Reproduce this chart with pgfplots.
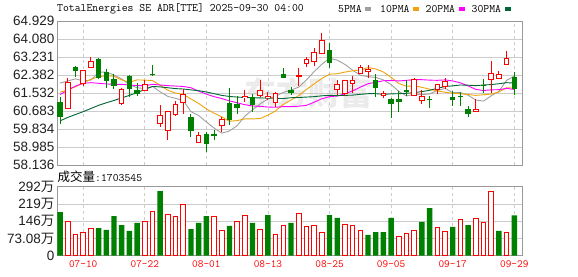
\documentclass[border=0pt]{standalone}
\usepackage{pgfplots}
\pgfplotsset{compat=1.18}
\usepackage{pgfplotstable}
\usepackage{fontspec}
\setmainfont{Liberation Sans}
\newfontfamily\cjk{Noto Sans CJK SC}
\definecolor{cred}{HTML}{FF0000}
\definecolor{cgreen}{HTML}{008000}
\definecolor{cma5}{HTML}{A0A0A0}
\definecolor{cma10}{HTML}{F0A30A}
\definecolor{cma20}{HTML}{FF00FF}
\definecolor{cma30}{HTML}{006633}
\definecolor{gridc}{HTML}{CCCCCC}
\definecolor{framec}{HTML}{999999}
\definecolor{labc}{HTML}{202020}

\pgfplotstableread{
i o h l c
1 60.81 62.23 60.81 62.04
3 61.99 62.62 61.88 62.60
4 62.74 63.22 62.70 63.04
8 61.03 61.75 60.97 61.72
11 61.67 62.15 61.63 61.91
13 60.10 60.97 59.94 60.45
14 59.77 60.70 59.33 60.65
15 60.53 61.16 60.46 60.97
16 61.09 61.72 60.56 61.44
18 59.19 59.71 59.16 59.55
21 59.99 60.42 59.71 60.26
24 61.34 61.66 61.12 61.39
26 61.41 62.15 61.34 61.66
27 61.31 61.60 61.20 61.39
28 61.09 61.56 60.87 61.50
31 62.30 62.70 61.88 62.34
32 62.93 63.25 62.78 63.09
33 63.01 63.67 62.82 63.45
34 63.40 64.38 63.36 64.02
36 61.69 62.15 61.44 61.91
37 61.50 62.15 61.39 62.10
38 61.99 62.34 61.52 62.12
39 62.46 62.85 62.41 62.74
40 62.57 62.85 62.23 62.65
42 61.41 61.63 61.28 61.52
46 61.42 62.24 61.38 62.18
47 61.16 61.66 61.03 61.39
49 61.69 61.96 61.49 61.91
50 61.83 62.26 61.72 62.08
54 60.68 61.23 60.65 60.76
56 62.18 63.04 61.55 62.46
57 62.23 62.57 62.19 62.41
58 62.89 63.51 62.85 63.17
}\up

\pgfplotstableread{
i o h l c
0 61.09 61.36 60.05 60.42
2 62.78 62.82 62.30 62.59
5 63.14 63.17 62.19 62.26
6 62.51 62.67 61.78 62.11
7 62.19 62.41 61.72 61.88
9 62.34 62.38 61.36 61.70
10 61.66 61.99 61.39 61.50
12 62.44 62.85 62.33 62.40
17 60.40 60.53 59.47 59.76
19 59.61 59.71 58.74 59.14
20 59.61 59.79 59.30 59.49
22 61.08 61.79 60.02 60.24
23 61.01 61.39 60.54 60.81
25 61.34 61.48 60.65 60.98
29 62.41 62.73 62.23 62.26
30 61.66 61.83 61.44 61.55
35 63.56 63.88 62.70 62.93
41 62.15 62.41 61.36 61.75
43 61.25 61.31 60.37 61.00
44 61.25 61.63 60.65 61.12
45 61.67 62.15 61.41 61.58
48 61.23 61.39 60.81 61.19
51 61.36 61.63 60.94 61.20
52 61.41 61.56 60.94 61.38
53 60.78 60.94 60.42 60.56
55 61.89 62.18 61.52 61.86
59 62.29 62.51 61.44 61.74
}\down

\pgfplotstableread{
i a b d e
0 62.00 61.57 61.46 60.22
1 62.10 61.67 61.67 60.38
2 62.20 61.83 61.86 60.52
3 62.10 62.00 61.99 60.65
4 62.14 62.18 62.02 60.80
5 62.51 62.30 61.99 60.95
6 62.52 62.35 61.96 61.07
7 62.38 62.32 61.94 61.18
8 62.20 62.15 61.94 61.30
9 61.93 62.04 61.91 61.42
10 61.78 62.15 61.88 61.55
11 61.74 62.14 61.88 61.70
12 61.84 62.12 61.94 61.84
13 61.59 61.90 61.91 61.82
14 61.37 61.66 61.88 61.78
15 61.28 61.53 61.86 61.74
16 61.18 61.47 61.84 61.72
17 60.65 61.25 61.78 61.68
18 60.47 61.04 61.62 61.64
19 60.17 60.78 61.48 61.58
20 59.88 60.58 61.36 61.50
21 59.64 60.41 61.27 61.42
22 59.74 60.20 61.16 61.37
23 59.99 60.23 61.07 61.34
24 60.44 60.31 60.98 61.32
25 60.74 60.31 60.92 61.31
26 61.02 60.33 60.90 61.30
27 61.25 60.49 60.87 61.29
28 61.38 60.69 60.86 61.28
29 61.56 61.00 60.89 61.27
30 61.67 61.20 60.89 61.31
31 61.81 61.41 60.91 61.32
32 62.15 61.70 60.95 61.34
33 62.54 61.96 61.10 61.36
34 62.89 62.22 61.26 61.40
35 63.17 62.42 61.36 61.42
36 63.08 62.44 61.39 61.41
37 62.88 62.52 61.50 61.42
38 62.61 62.58 61.63 61.43
39 62.37 62.62 61.81 61.47
40 62.30 62.73 61.97 61.50
41 62.27 62.67 62.04 61.50
42 62.15 62.52 62.11 61.47
43 61.93 62.27 62.12 61.49
44 61.61 61.98 62.10 61.50
45 61.39 61.85 62.13 61.52
46 61.48 61.87 62.16 61.55
47 61.45 61.80 62.16 61.60
48 61.49 61.71 62.14 61.66
49 61.65 61.63 62.13 61.75
50 61.75 61.57 62.15 61.84
51 61.55 61.52 62.10 61.87
52 61.55 61.50 62.01 61.91
53 61.43 61.46 61.87 61.90
54 61.20 61.42 61.70 61.88
55 61.15 61.45 61.65 61.91
56 61.40 61.48 61.68 61.93
57 61.61 61.58 61.69 61.97
58 62.13 61.78 61.75 62.02
59 62.33 61.76 61.70 62.00
}\ma

\pgfplotstableread{
i v
1 143
2 91
3 100
4 116
11 143
12 188
14 175
15 167
16 215
20 168
21 107
23 147
24 171
26 112
28 91
29 129
31 180
32 124
33 129
34 99
37 133
38 129
39 108
44 82
45 92
46 108
49 120
50 103
52 154
54 158
55 139
56 273
58 99
}\volup

\pgfplotstableread{
i v
0 185
5 117
6 109
7 168
8 130
9 105
10 139
13 274
17 113
18 139
19 168
22 126
25 139
27 172
30 139
35 172
36 160
40 88
41 100
42 100
43 160
47 143
48 202
51 122
53 130
57 105
59 170.35
}\voldown

\pgfplotsset{
  panel/.style={
    scale only axis, anchor=south west, width=465pt,
    xmin=-0.4, xmax=60,
    axis line style={framec, line width=0.8pt},
    major tick length=0pt,
    xtick={3,11,19,27,35,43,51,59},
    ymajorgrids, xmajorgrids,
    y grid style={gridc, line width=0.7pt},
    x grid style={gridc, line width=0.7pt, dash pattern=on 3pt off 3pt},
    yticklabel style={font=\fontsize{13.5}{14}\selectfont, text=labc, xshift=1pt},
  },
}

\begin{document}
\begin{tikzpicture}[x=1pt,y=1pt]
\path[use as bounding box] (0,0) rectangle (578,276);
\node[text=black!8, font=\cjk\bfseries\fontsize{32}{32}\selectfont] at (308,183) {东方财富};

% title and legend
\node[anchor=west, inner sep=0pt, font=\ttfamily\fontsize{11.4}{12}\selectfont] at (57,267) {TotalEnergies SE ADR[TTE] 2025-09-30 04:00};
\node[anchor=west, inner sep=0pt, font=\ttfamily\fontsize{11.4}{12}\selectfont] at (338,267) {5PMA};
\fill[cma5] (365,265) rectangle (371,269);
\node[anchor=west, inner sep=0pt, font=\ttfamily\fontsize{11.4}{12}\selectfont] at (380,267) {10PMA};
\fill[cma10] (413,265) rectangle (419,269);
\node[anchor=west, inner sep=0pt, font=\ttfamily\fontsize{11.4}{12}\selectfont] at (425.5,267) {20PMA};
\fill[cma20] (459,265) rectangle (465,269);
\node[anchor=west, inner sep=0pt, font=\ttfamily\fontsize{11.4}{12}\selectfont] at (471.5,267) {30PMA};
\fill[cma30] (505,265) rectangle (511,269);
\node[anchor=west, inner sep=0pt] at (57.5,99) {{\cjk\fontsize{12.5}{12.5}\selectfont 成交量}{\ttfamily\fontsize{11.4}{12}\selectfont :1703545}};

% price panel
\begin{axis}[panel, at={(57pt,111pt)}, height=144pt,
  ymin=58.136, ymax=64.929,
  ytick={58.136,58.985,59.834,60.683,61.532,62.382,63.231,64.080,64.929},
  yticklabels={58.136,58.985,59.834,60.683,61.532,62.382,63.231,64.080,64.929},
  xticklabels={},
]
\addplot[cma5, line width=0.9pt, mark=none] table[x=i, y=a]{\ma};
\addplot[cma10, line width=0.9pt, mark=none] table[x=i, y=b]{\ma};
\addplot[cma20, line width=0.9pt, mark=none] table[x=i, y=d]{\ma};
\addplot[cma30, line width=0.9pt, mark=none] table[x=i, y=e]{\ma};
% green candles
\addplot[draw=none, mark=none, error bars/.cd, y dir=plus, y explicit, error mark=none,
  error bar style={draw=cgreen, line width=1pt, solid}]
  table[x=i, y=l, y error expr=\thisrow{h}-\thisrow{l}]{\down};
\addplot[draw=none, mark=none, error bars/.cd, y dir=plus, y explicit, error mark=none,
  error bar style={draw=cgreen, line width=5.4pt, solid}]
  table[x=i, y=c, y error expr=\thisrow{o}-\thisrow{c}]{\down};
% red candles
\addplot[draw=none, mark=none, error bars/.cd, y dir=plus, y explicit, error mark=none,
  error bar style={draw=cred, line width=1pt, solid}]
  table[x=i, y=l, y error expr=\thisrow{h}-\thisrow{l}]{\up};
\addplot[draw=none, mark=none, error bars/.cd, y dir=plus, y explicit, error mark=none,
  error bar style={draw=cred, line width=5.6pt, solid}]
  table[x=i, y expr=\thisrow{o}-0.0236, y error expr=\thisrow{c}-\thisrow{o}+0.0472]{\up};
\addplot[draw=none, mark=none, error bars/.cd, y dir=plus, y explicit, error mark=none,
  error bar style={draw=white, line width=3.6pt, solid}]
  table[x=i, y expr=\thisrow{o}+0.0236, y error expr={max(\thisrow{c}-\thisrow{o}-0.0472,0)}]{\up};
\end{axis}

% volume panel
\begin{axis}[panel, at={(57pt,20.3pt)}, height=69pt,
  ymin=0, ymax=292.32,
  ytick={0,73.08,146.16,219.24,292.32},
  yticklabels={0,73.08{\cjk 万},146{\cjk 万},219{\cjk 万},292{\cjk 万}},
  xticklabels={07-10,07-22,08-01,08-13,08-25,09-05,09-17,09-29},
  xticklabel style={font=\ttfamily\fontsize{11}{11}\selectfont, text=cred, yshift=-1.5pt},
]
\addplot[ybar, bar width=5.4pt, bar shift=0pt, fill=cgreen, draw=none] table[x=i, y=v]{\voldown};
\addplot[ybar, bar width=4.6pt, bar shift=0pt, fill=white, draw=cred, line width=1pt] table[x=i, y=v]{\volup};
\end{axis}
\end{tikzpicture}
\end{document}
